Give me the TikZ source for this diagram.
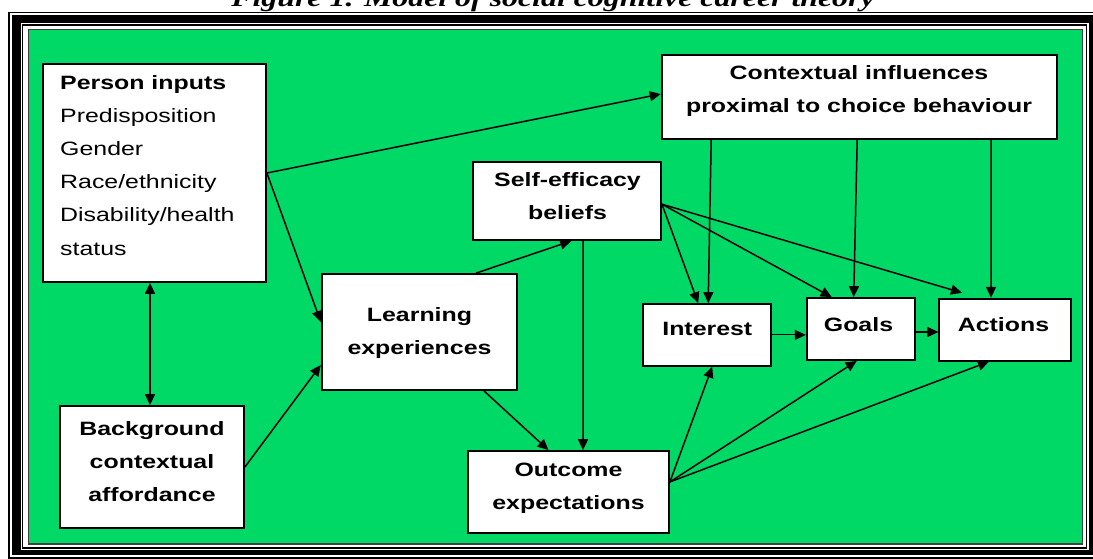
\documentclass[tikz,border=0pt]{standalone}
\usepackage{fontspec}
\usetikzlibrary{arrows.meta,calc}
\newfontfamily\sansS{Liberation Sans}[FakeStretch=1.29]
\newfontfamily\serifS{Liberation Serif}[FakeStretch=1.29]
\definecolor{bggreen}{RGB}{0,217,102}
\begin{document}
\begin{tikzpicture}[x=1pt,y=-1pt,
  box/.style={draw=black,line width=1.8pt,fill=white,inner sep=0pt,rectangle},
  txt/.style={font=\sansS\fontsize{19.3}{33.2}\selectfont,inner sep=0pt,anchor=base},
  btxt/.style={font=\sansS\bfseries\fontsize{19.3}{33.2}\selectfont,inner sep=0pt,anchor=base},
  arr/.style={line width=1.5pt,-{Triangle[length=11pt,width=10pt]}},
  thinarr/.style={line width=1.1pt,-{Triangle[length=11pt,width=10pt]}},
  dblarr/.style={line width=1.5pt,{Triangle[length=11pt,width=10pt]}-{Triangle[length=11pt,width=10pt]}}]
\useasboundingbox (0,0) rectangle (1093,558);
\clip (0,0) rectangle (1093,558);
% frame
\fill[white] (0,0) rectangle (1093,558);
\fill[black] (8.3,11.7) rectangle (1100,558.5);
\fill[white] (10.3,13.3) rectangle (1100,556.7);
\fill[black] (12.3,15) rectangle (1100,555);
\fill[white] (20.7,23.3) rectangle (1089,550);
\fill[black] (21.7,24.3) rectangle (1087.3,548.7);
\fill[white] (23,25.7) rectangle (1085.7,546.7);
\draw[fill=bggreen,draw=black!75,line width=1.5pt] (28.5,29.6) rectangle (1082.5,544.2);
% title
\node[font=\serifS\bfseries\itshape\fontsize{24.7}{30}\selectfont,anchor=base,inner sep=0pt] (title) at (553,6.5) {Figure 1. Model of social cognitive career theory};
% boxes
\node[box,minimum width=223pt,minimum height=218pt] (person) at (154.5,173) {};
\node[box,minimum width=184pt,minimum height=122pt] (bg) at (152,467) {};
\node[box,minimum width=195.6pt,minimum height=116pt] (learn) at (419.5,332) {};
\node[box,minimum width=187.7pt,minimum height=77.7pt] (self) at (567.2,201.2) {};
\node[box,minimum width=395pt,minimum height=84pt] (ctx) at (859.2,97) {};
\node[box,minimum width=127.7pt,minimum height=61.7pt] (int) at (707.2,334.9) {};
\node[box,minimum width=108pt,minimum height=62pt] (goals) at (860.7,329) {};
\node[box,minimum width=131.4pt,minimum height=62pt] (act) at (1005,329.7) {};
\node[box,minimum width=201pt,minimum height=81.7pt] (out) at (568.5,491.9) {};
% texts
\node[txt,anchor=base west] (person-t) at (60,89) {\begin{tabular}[t]{@{}l@{}}\bfseries Person inputs\\Predisposition\\Gender\\Race/ethnicity\\Disability/health\\status\end{tabular}};
\node[btxt] (bg-t) at (152,435) {\begin{tabular}[t]{@{}c@{}}Background\\contextual\\affordance\end{tabular}};
\node[btxt] (learn-t) at (419.5,321) {\begin{tabular}[t]{@{}c@{}}Learning\\experiences\end{tabular}};
\node[btxt] (self-t) at (567.5,186) {\begin{tabular}[t]{@{}c@{}}Self-efficacy\\beliefs\end{tabular}};
\node[btxt] (ctx-t) at (859,79.3) {\begin{tabular}[t]{@{}c@{}}Contextual influences\\proximal to choice behaviour\end{tabular}};
\node[btxt] (int-t) at (707.3,335.7) {Interest};
\node[btxt] (goals-t) at (858.5,331) {Goals};
\node[btxt] (act-t) at (1003.5,331) {Actions};
\node[btxt] (out-t) at (568.5,476) {\begin{tabular}[t]{@{}c@{}}Outcome\\expectations\end{tabular}};
% connectors
\draw[arr] (person.east) -- ([yshift=3pt]ctx.west);
\draw[arr] (person.east) -- ([yshift=10pt]learn.west);
\draw[arr] (bg.east) -- ([yshift=-33pt]learn.west);
\draw[dblarr] ($(bg.north |- person.south)+(-2,0)$) -- ([xshift=-2pt]bg.north);
\draw[arr] ([xshift=56.5pt]learn.north) -- ([xshift=4pt]self.south);
\draw[arr] ([xshift=64.5pt]learn.south) -- ([xshift=-20pt]out.north);
\draw[arr] ([xshift=16pt]self.south) -- ($(out.north)+(14.5,0)$);
\draw[arr] ([yshift=-3pt]self.east) -- ([xshift=-9pt]int.north);
\draw[arr] ([yshift=-3pt]self.east) -- ([xshift=-29pt]goals.north);
\draw[arr] ([yshift=-3pt]self.east) -- ([xshift=-43pt,yshift=5pt]act.north);
\draw[arr] ([xshift=-148pt]ctx.south) -- ([xshift=1pt]int.north);
\draw[arr] ([xshift=-2pt]ctx.south) -- ([xshift=-7pt]goals.north);
\draw[arr] ([xshift=132pt]ctx.south) -- ($(act.north)+(-14,0)$);
\draw[thinarr] (int.east) -- (int.east -| goals.west);
\draw[thinarr] ([yshift=-3pt]goals.east) -- ([yshift=-3pt]goals.east -| act.west);
\draw[arr] ([yshift=10pt]out.east) -- ([xshift=5pt]int.south);
\draw[arr] ([yshift=10pt]out.east) -- ([xshift=-4pt]goals.south);
\draw[arr] ([yshift=10pt]out.east) -- ([xshift=-16pt]act.south);
\end{tikzpicture}
\end{document}
